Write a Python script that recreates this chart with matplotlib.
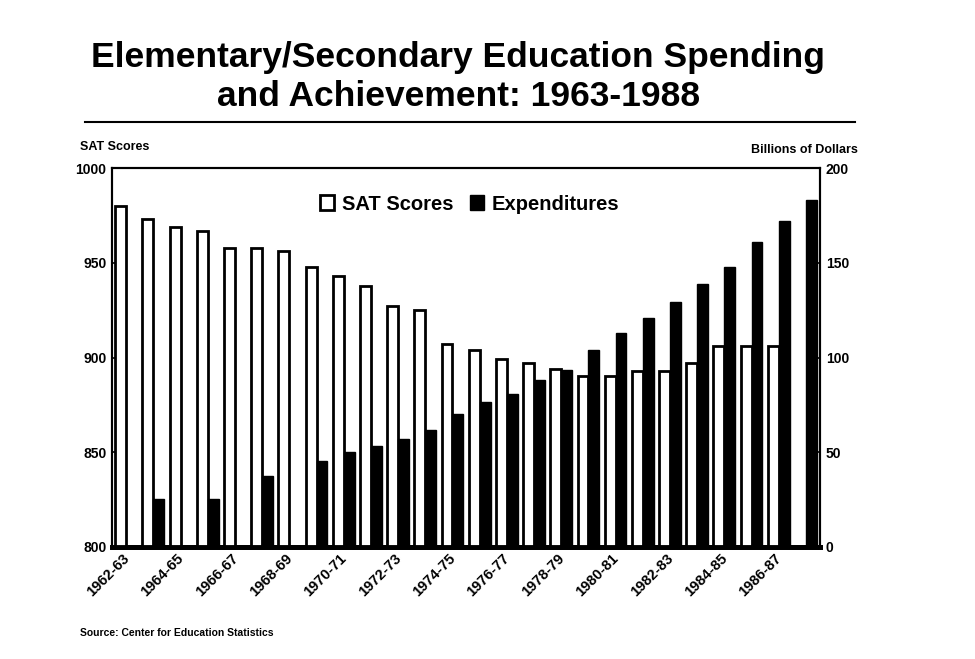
import numpy as np
import matplotlib.pyplot as plt

plt.rcParams['font.family'] = ['Liberation Sans', 'DejaVu Sans']

years = ["1962-63", "1963-64", "1964-65", "1965-66", "1966-67", "1967-68",
         "1968-69", "1969-70", "1970-71", "1971-72", "1972-73", "1973-74",
         "1974-75", "1975-76", "1976-77", "1977-78", "1978-79", "1979-80",
         "1980-81", "1981-82", "1982-83", "1983-84", "1984-85", "1985-86",
         "1986-87", "1987-88"]

# combined SAT averages (no 1987-88 bar in the chart)
sat = [980, 973, 969, 967, 958, 958, 956, 948, 943, 938, 927, 925, 907,
       904, 899, 897, 894, 890, 890, 893, 893, 897, 906, 906, 906, np.nan]

# expenditures, billions of dollars (biennial until 1969-70)
spend = [np.nan, 25.5, np.nan, 25.5, np.nan, 37.5, np.nan, 45.5, 50, 53.5,
         57, 62, 70, 76.5, 80.5, 88, 93.5, 104, 113, 121, 129.5, 139, 148,
         161, 172, 183]

tick_labels = years[::2]


def main():
    fig = plt.figure(figsize=(9.75, 6.59), dpi=100)
    ax = fig.add_axes([0.1149, 0.170, 0.7262, 0.575])
    ax2 = ax.twinx()

    x = np.arange(len(years))
    w = 0.4

    sat_bars = ax.bar(x - w / 2, np.array(sat) - 800, bottom=800, width=w,
                      color="white", edgecolor="black", linewidth=2, zorder=3)
    exp_bars = ax2.bar(x + w / 2, spend, width=w, color="black",
                       edgecolor="black", linewidth=1, zorder=3)

    ax.set_xlim(-0.52, len(years) - 0.48)
    ax.set_ylim(800, 1000)
    ax2.set_ylim(0, 200)
    ax.set_yticks([800, 850, 900, 950, 1000])
    ax2.set_yticks([0, 50, 100, 150, 200])

    # labels sit a little left of each group centre
    ax.set_xticks(x[::2] - 0.15)
    ax.set_xticklabels(tick_labels, rotation=45, ha="right",
                       rotation_mode="anchor", fontsize=10.5,
                       fontweight="bold")
    ax.tick_params(axis="x", length=0, pad=3)
    ax.tick_params(axis="y", direction="in", length=5, width=1.2,
                   labelsize=10, pad=4)
    ax2.tick_params(axis="y", direction="in", length=5, width=1.2,
                    labelsize=10, pad=4)
    for lab in ax.get_yticklabels() + ax2.get_yticklabels():
        lab.set_fontweight("bold")

    for a in (ax, ax2):
        for s in ("left", "right", "top"):
            a.spines[s].set_linewidth(1.5)
        a.spines["bottom"].set_linewidth(3.5)

    ax.legend([sat_bars, exp_bars], ["SAT Scores", "Expenditures"],
              loc="center", bbox_to_anchor=(0.505, 0.905), ncol=2,
              frameon=False, handlelength=0.7, handleheight=0.7,
              handletextpad=0.4, columnspacing=0.8,
              prop={"size": 14.5, "weight": "bold"})

    fig.text(0.082, 0.777, "SAT Scores", fontsize=9, fontweight="bold",
             ha="left", va="center")
    fig.text(0.880, 0.773, "Billions of Dollars", fontsize=9,
             fontweight="bold", ha="right", va="center")

    fig.text(0.470, 0.912, "Elementary/Secondary Education Spending",
             fontsize=25.5, fontweight="bold", ha="center", va="center")
    fig.text(0.470, 0.853, "and Achievement: 1963-1988",
             fontsize=25.5, fontweight="bold", ha="center", va="center")
    fig.add_artist(plt.Line2D([0.087, 0.877], [0.815, 0.815],
                              color="black", linewidth=1.5))

    fig.text(0.082, 0.040, "Source: Center for Education Statistics",
             fontsize=7.5, fontweight="bold", ha="left", va="center")

    fig.savefig("out.png", dpi=100)


if __name__ == "__main__":
    main()
